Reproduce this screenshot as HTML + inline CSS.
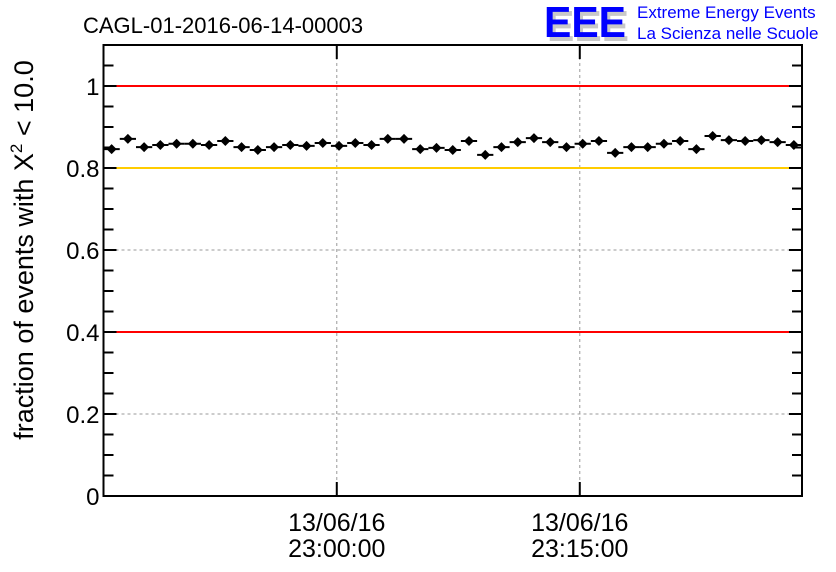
<!DOCTYPE html>
<html><head><meta charset="utf-8"><style>
body{margin:0;background:#fff;width:836px;height:572px;overflow:hidden}
svg{display:block;font-family:"Liberation Sans",sans-serif}
</style></head><body>
<svg id="chart" width="836" height="572">
<text x="83" y="33" font-size="22">CAGL-01-2016-06-14-00003</text>
<g>
<text x="547" y="41" font-size="44" font-weight="bold" fill="#c8c8c8" textLength="82" lengthAdjust="spacingAndGlyphs">EEE</text>
<text x="544" y="37" font-size="44" font-weight="bold" fill="#0000ff" textLength="82" lengthAdjust="spacingAndGlyphs">EEE</text>
<text x="637" y="18" font-size="17" fill="#0000ff">Extreme Energy Events</text>
<text x="637" y="39" font-size="17" fill="#0000ff">La Scienza nelle Scuole</text>
</g>
<text transform="translate(33,250) rotate(-90)" text-anchor="middle" font-size="27">fraction of events with X<tspan dy="-11" font-size="17">2</tspan><tspan dy="11"> &lt; 10.0</tspan></text>
<g id="grid"></g><g id="refs"></g><g id="marks"></g><g id="axes"></g>
</svg>
<script>
const values=[0.846,0.871,0.851,0.856,0.859,0.859,0.856,0.866,0.851,0.844,0.851,0.856,0.854,0.861,0.854,0.861,0.856,0.871,0.871,0.846,0.849,0.844,0.866,0.832,0.851,0.863,0.873,0.863,0.851,0.859,0.866,0.837,0.851,0.851,0.859,0.866,0.846,0.878,0.868,0.866,0.868,0.863,0.856];
const refLines=[1.0,0.8,0.4];
const refColors=["#ff0000","#ffcc00","#ff0000"];
const yTicks=[0,0.2,0.4,0.6,0.8,1];
const yTickLabels=["0","0.2","0.4","0.6","0.8","1"];
const xTickMinutes=[0,15];
const xTickDates=["13/06/16","13/06/16"];
const xTickTimes=["23:00:00","23:15:00"];
const startMin=-14.4;
const X0=103.5,X1=802,Y0=496,Y1=45,YMAX=1.1;
const nBins=values.length;
const binW=(X1-X0)/nBins;
const pxPerMin=16.2;
const xm=m=>X0+(m-startMin)*pxPerMin;
const y=v=>Y0-(v/YMAX)*(Y0-Y1);
const NS="http://www.w3.org/2000/svg";
function mk(t,a,p){const e=document.createElementNS(NS,t);for(const k in a)e.setAttribute(k,a[k]);p.appendChild(e);return e;}
const grid=document.getElementById('grid'),refs=document.getElementById('refs'),marks=document.getElementById('marks'),axes=document.getElementById('axes');
yTicks.forEach(v=>{if(v>0&&v<1){const l=mk('line',{x1:X0,x2:X1,y1:y(v),y2:y(v),stroke:'#999','stroke-dasharray':'3,3','stroke-width':1},grid);

}});
xTickMinutes.forEach(m=>{const l=mk('line',{x1:xm(m),x2:xm(m),y1:Y1,y2:Y0,stroke:'#999','stroke-dasharray':'3,3','stroke-width':1},grid);

});
refLines.forEach((v,i)=>{const l=mk('line',{x1:X0,x2:X1,y1:y(v),y2:y(v),stroke:refColors[i],'stroke-width':2},refs);

});
values.forEach((v,i)=>{const cx=X0+(i+0.5)*binW,cy=y(v);
const g=mk('g',{},marks);


mk('line',{x1:X0+i*binW,x2:X0+(i+1)*binW,y1:cy,y2:cy,stroke:'#000','stroke-width':2},g);
mk('line',{x1:cx,x2:cx,y1:cy-4,y2:cy+4,stroke:'#000','stroke-width':2},g);
mk('polygon',{points:`${cx},${cy-5} ${cx+5},${cy} ${cx},${cy+5} ${cx-5},${cy}`,fill:'#000'},g);});
const fr=mk('rect',{x:X0,y:Y1,width:X1-X0,height:Y0-Y1,fill:'none',stroke:'#000','stroke-width':2},axes);


for(let k=0;k<=22;k++){const v=k*0.05,yy=y(v),major=(k%4===0);
const len=major?13:10;
mk('line',{x1:X0,x2:X0+len,y1:yy,y2:yy,stroke:'#000','stroke-width':2},axes);
mk('line',{x1:X1-len,x2:X1,y1:yy,y2:yy,stroke:'#000','stroke-width':2},axes);}
yTicks.forEach((v,i)=>{const t=mk('text',{x:X0-4,y:y(v)+9,'text-anchor':'end','font-size':24},axes);t.textContent=yTickLabels[i];

});
xTickMinutes.forEach((m,i)=>{const x=xm(m);
mk('line',{x1:x,x2:x,y1:Y0-14,y2:Y0,stroke:'#000','stroke-width':2},axes);
mk('line',{x1:x,x2:x,y1:Y1,y2:Y1+14,stroke:'#000','stroke-width':2},axes);
const t1=mk('text',{x:x,y:531,'text-anchor':'middle','font-size':25},axes);t1.textContent=xTickDates[i];


const t2=mk('text',{x:x,y:557,'text-anchor':'middle','font-size':25},axes);t2.textContent=xTickTimes[i];

});
</script>
</body></html>
